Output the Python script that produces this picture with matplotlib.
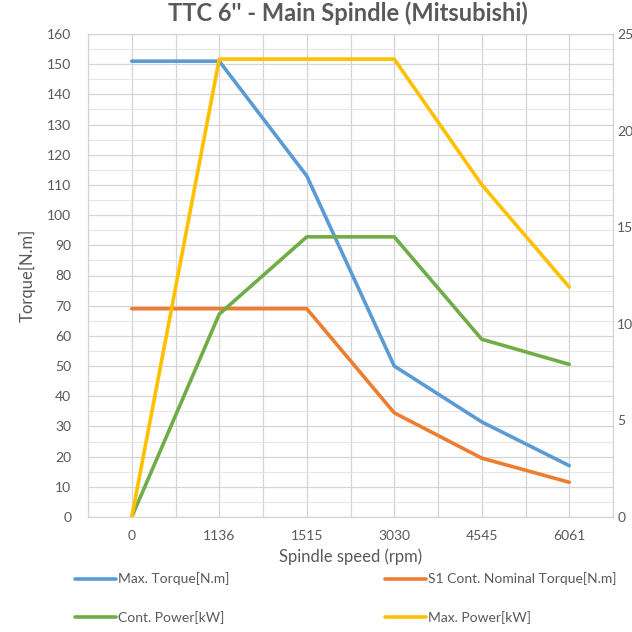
import matplotlib
matplotlib.use("Agg")
import matplotlib.pyplot as plt
import numpy as np

plt.rcParams['font.family'] = ['Lato', 'DejaVu Sans']

speeds = ["0", "1136", "1515", "3030", "4545", "6061"]
max_torque = [151, 151, 113, 50, 31.5, 17]
s1_torque = [69, 69, 69, 34.5, 19.5, 11.5]
cont_power = [0, 10.5, 14.5, 14.5, 9.2, 7.9]
max_power = [0, 23.7, 23.7, 23.7, 17.2, 11.9]

c_blue = "#5B9BD5"
c_orange = "#ED7D31"
c_green = "#70AD47"
c_yellow = "#FFC000"
txt = "#595959"
grid = "#D4D4D4"
grid_minor = "#E6E6E6"

fig = plt.figure(figsize=(6.32, 6.32), dpi=100)
ax = fig.add_axes([88/632, 1-517/632, (613-88)/632, (517-34)/632])
ax2 = ax.twinx()

x = np.arange(len(speeds))
lw = 2.6
l1, = ax.plot(x, max_torque, color=c_blue, lw=lw, solid_capstyle='round', zorder=3)
l2, = ax.plot(x, s1_torque, color=c_orange, lw=lw, solid_capstyle='round', zorder=3)
l3, = ax2.plot(x, cont_power, color=c_green, lw=lw, solid_capstyle='round', zorder=3)
l4, = ax2.plot(x, max_power, color=c_yellow, lw=lw, solid_capstyle='round', zorder=3)

ax.set_xlim(-0.5, len(speeds) - 0.5)
ax.set_ylim(0, 160)
ax2.set_ylim(0, 25)
ax.set_xticks(x)
ax.set_xticklabels(speeds)
ax.set_xticks(np.arange(-0.5, len(speeds), 0.5), minor=True)
ax.set_yticks(np.arange(0, 161, 10))
ax.set_yticks(np.arange(0, 161, 5), minor=True)
ax2.set_yticks(np.arange(0, 26, 5))

ax.grid(True, which='major', color=grid, lw=0.9)
ax.grid(True, which='minor', axis='y', color=grid_minor, lw=0.8)
ax.grid(True, which='minor', axis='x', color=grid, lw=0.9)
ax.set_axisbelow(True)
for a in (ax, ax2):
    a.tick_params(which='both', length=0, colors=txt, labelsize=10)
    for s in a.spines.values():
        s.set_color(grid)
ax.tick_params(axis='x', pad=9)
ax.tick_params(axis='y', pad=12)
ax2.tick_params(axis='y', pad=3)

ax.set_xlabel("Spindle speed (rpm)", color=txt, fontsize=12, labelpad=5)
ax.set_ylabel("Torque[N.m]", color=txt, fontsize=12, labelpad=8)
fig.suptitle("TTC 6'' - Main Spindle (Mitsubishi)", x=348/632, y=0.997, color=txt,
             fontsize=17, fontweight='bold')

leg_kw = dict(frameon=False, fontsize=10, handlelength=3.0, handletextpad=0.1,
              labelspacing=1.85, loc='upper left', labelcolor=txt)
fig.legend([l1, l3], ["Max. Torque[N.m]", "Cont. Power[kW]"],
           bbox_to_anchor=(62/632, 1-560/632), **leg_kw)
fig.legend([l2, l4], ["S1 Cont. Nominal Torque[N.m]", "Max. Power[kW]"],
           bbox_to_anchor=(372/632, 1-560/632), **leg_kw)

fig.savefig("out.png", dpi=100)
